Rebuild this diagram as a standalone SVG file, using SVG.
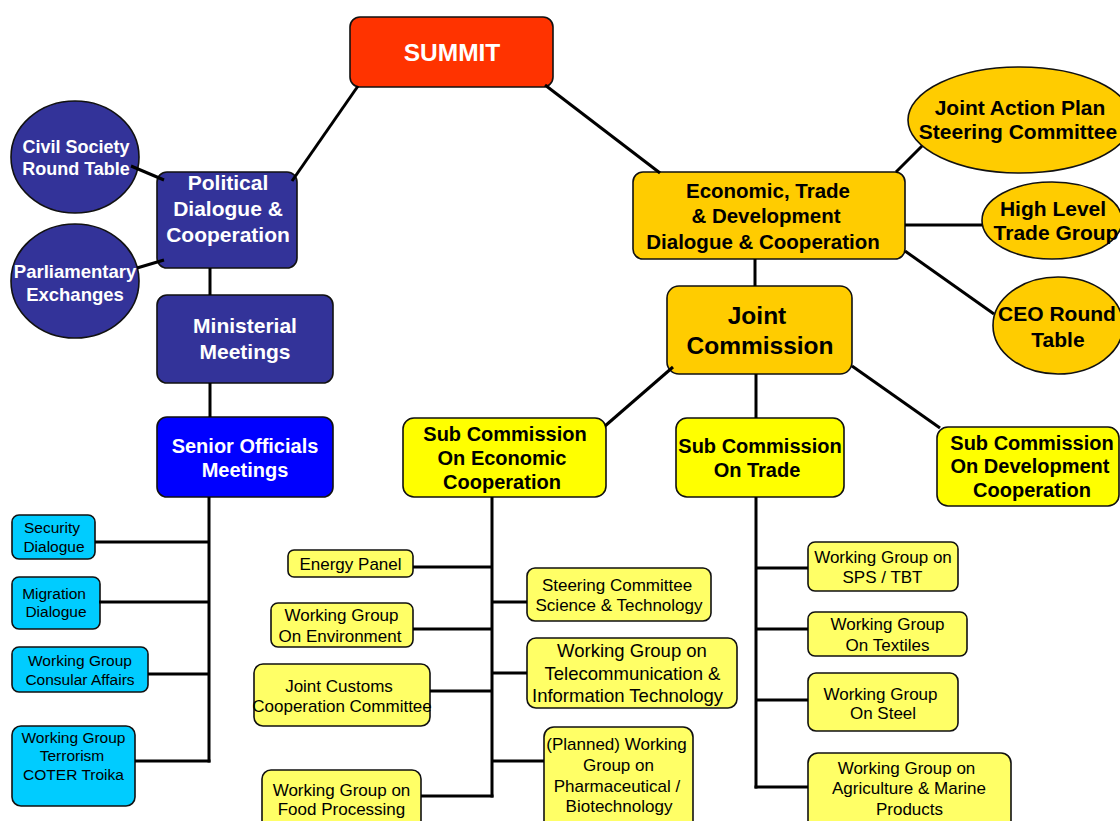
<svg xmlns="http://www.w3.org/2000/svg" width="1120" height="821" viewBox="0 0 1120 821">
<style>
  .n { stroke: #111; stroke-width: 1.6; }
  .red { fill: #FF3300; }
  .navy { fill: #333399; }
  .blue { fill: #0000FF; }
  .gold { fill: #FFCC00; }
  .yel { fill: #FFFF00; }
  .ly { fill: #FFFF66; }
  .cy { fill: #00CCFF; }
  text { font-family: "Liberation Sans", Arial, sans-serif; text-anchor: middle; }
  .tw { fill: #fff; font-weight: bold; }
  .tb { fill: #000; font-weight: bold; }
  .tr { fill: #000; }
  .c line, .c path { stroke: #000; stroke-width: 3; fill: none; }
</style>
<rect width="1120" height="821" fill="#fff"/>

<g id="summit">
  <rect class="n red" x="350" y="17" width="203" height="70" rx="10"/>
  <text class="tw" x="452" y="61" font-size="24.5">SUMMIT</text>
</g>
<g id="political">
  <rect class="n navy" x="157" y="172" width="140" height="96" rx="10"/>
  <text class="tw" font-size="21"><tspan x="228" y="190">Political</tspan><tspan x="228" y="216">Dialogue &amp;</tspan><tspan x="228" y="242">Cooperation</tspan></text>
</g>
<g id="civil-society">
  <ellipse class="n navy" cx="75" cy="157" rx="64" ry="56"/>
  <text class="tw" font-size="18"><tspan x="76" y="153">Civil Society</tspan><tspan x="76" y="175">Round Table</tspan></text>
</g>
<g id="parliamentary">
  <ellipse class="n navy" cx="75" cy="281" rx="64" ry="57"/>
  <text class="tw" font-size="18.5"><tspan x="75" y="278">Parliamentary</tspan><tspan x="75" y="301">Exchanges</tspan></text>
</g>
<g id="ministerial">
  <rect class="n navy" x="157" y="295" width="176" height="88" rx="10"/>
  <text class="tw" font-size="21"><tspan x="245" y="333">Ministerial</tspan><tspan x="245" y="359">Meetings</tspan></text>
</g>
<g id="senior-officials">
  <rect class="n blue" x="157" y="417" width="176" height="80" rx="10"/>
  <text class="tw" font-size="20"><tspan x="245" y="453">Senior Officials</tspan><tspan x="245" y="477">Meetings</tspan></text>
</g>
<g id="security-dialogue">
  <rect class="n cy" x="12" y="515" width="83" height="44" rx="7"/>
  <text class="tr" font-size="15.5"><tspan x="52" y="533">Security</tspan><tspan x="54" y="552">Dialogue</tspan></text>
</g>
<g id="migration-dialogue">
  <rect class="n cy" x="12" y="577" width="88" height="52" rx="7"/>
  <text class="tr" font-size="15.5"><tspan x="54" y="599">Migration</tspan><tspan x="56" y="617">Dialogue</tspan></text>
</g>
<g id="wg-consular">
  <rect class="n cy" x="12" y="647" width="136" height="45" rx="7"/>
  <text class="tr" font-size="15.5"><tspan x="80" y="666">Working Group</tspan><tspan x="80" y="685">Consular Affairs</tspan></text>
</g>
<g id="wg-terrorism">
  <rect class="n cy" x="12" y="726" width="123" height="80" rx="9"/>
  <text class="tr" font-size="15.5"><tspan x="73.5" y="743">Working Group</tspan><tspan x="72" y="761">Terrorism</tspan><tspan x="73.5" y="780">COTER Troika</tspan></text>
</g>

<g id="economic-trade">
  <rect class="n gold" x="633" y="172" width="272" height="87" rx="10"/>
  <text class="tb" font-size="20.5"><tspan x="768" y="198">Economic, Trade</tspan><tspan x="766" y="223">&amp; Development</tspan><tspan x="763" y="249">Dialogue &amp; Cooperation</tspan></text>
</g>
<g id="joint-action-plan">
  <ellipse class="n gold" cx="1020" cy="120" rx="112" ry="53"/>
  <text class="tb" font-size="21"><tspan x="1020" y="115">Joint Action Plan</tspan><tspan x="1018" y="139">Steering Committee</tspan></text>
</g>
<g id="high-level-trade">
  <ellipse class="n gold" cx="1052" cy="220.5" rx="70" ry="38.5"/>
  <text class="tb" font-size="21"><tspan x="1053" y="216">High Level</tspan><tspan x="1056" y="240">Trade Group</tspan></text>
</g>
<g id="ceo-round-table">
  <ellipse class="n gold" cx="1058" cy="325.5" rx="65" ry="48.5"/>
  <text class="tb" font-size="21"><tspan x="1057" y="321">CEO Round</tspan><tspan x="1058" y="347">Table</tspan></text>
</g>
<g id="joint-commission">
  <rect class="n gold" x="667" y="286" width="185" height="88" rx="12"/>
  <text class="tb" font-size="24.5"><tspan x="757" y="324">Joint</tspan><tspan x="760" y="354">Commission</tspan></text>
</g>

<g id="sub-economic">
  <rect class="n yel" x="403" y="418" width="203" height="79" rx="11"/>
  <text class="tb" font-size="20"><tspan x="505" y="441">Sub Commission</tspan><tspan x="502" y="465">On Economic</tspan><tspan x="502" y="489">Cooperation</tspan></text>
</g>
<g id="sub-trade">
  <rect class="n yel" x="676" y="418" width="168" height="79" rx="11"/>
  <text class="tb" font-size="20"><tspan x="760" y="453">Sub Commission</tspan><tspan x="757" y="477">On Trade</tspan></text>
</g>
<g id="sub-development">
  <rect class="n yel" x="937" y="427" width="182" height="79" rx="11"/>
  <text class="tb" font-size="20"><tspan x="1032" y="450">Sub Commission</tspan><tspan x="1030" y="473">On Development</tspan><tspan x="1032" y="497">Cooperation</tspan></text>
</g>

<g id="energy-panel">
  <rect class="n ly" x="288" y="550" width="125" height="27" rx="6"/>
  <text class="tr" font-size="17" x="350.5" y="570">Energy Panel</text>
</g>
<g id="wg-environment">
  <rect class="n ly" x="271" y="603" width="142" height="44" rx="7"/>
  <text class="tr" font-size="17"><tspan x="341.5" y="621">Working Group</tspan><tspan x="340" y="642">On Environment</tspan></text>
</g>
<g id="joint-customs">
  <rect class="n ly" x="254" y="664" width="176" height="62" rx="9"/>
  <text class="tr" font-size="17"><tspan x="339" y="692">Joint Customs</tspan><tspan x="342" y="712">Cooperation Committee</tspan></text>
</g>
<g id="wg-food">
  <rect class="n ly" x="262" y="770" width="159" height="60" rx="9"/>
  <text class="tr" font-size="17"><tspan x="341.5" y="796">Working Group on</tspan><tspan x="341.5" y="815">Food Processing</tspan></text>
</g>
<g id="steering-science">
  <rect class="n ly" x="527" y="568" width="184" height="53" rx="8"/>
  <text class="tr" font-size="17"><tspan x="617" y="591">Steering Committee</tspan><tspan x="619" y="611">Science &amp; Technology</tspan></text>
</g>
<g id="wg-telecom">
  <rect class="n ly" x="527" y="638" width="210" height="70" rx="9"/>
  <text class="tr" font-size="18.5"><tspan x="632" y="657">Working Group on</tspan><tspan x="632.5" y="680">Telecommunication &amp;</tspan><tspan x="627.5" y="702">Information Technology</tspan></text>
</g>
<g id="wg-pharma">
  <rect class="n ly" x="544" y="727" width="149" height="105" rx="10"/>
  <text class="tr" font-size="17"><tspan x="616.5" y="750">(Planned) Working</tspan><tspan x="618.5" y="771">Group on</tspan><tspan x="617" y="792">Pharmaceutical /</tspan><tspan x="619" y="812">Biotechnology</tspan></text>
</g>
<g id="wg-sps-tbt">
  <rect class="n ly" x="808" y="542" width="150" height="49" rx="7"/>
  <text class="tr" font-size="17"><tspan x="883" y="563">Working Group on</tspan><tspan x="882.5" y="583">SPS / TBT</tspan></text>
</g>
<g id="wg-textiles">
  <rect class="n ly" x="808" y="612" width="159" height="44" rx="7"/>
  <text class="tr" font-size="17"><tspan x="887.5" y="630">Working Group</tspan><tspan x="887.5" y="651">On Textiles</tspan></text>
</g>
<g id="wg-steel">
  <rect class="n ly" x="808" y="673" width="150" height="58" rx="8"/>
  <text class="tr" font-size="17"><tspan x="880.5" y="700">Working Group</tspan><tspan x="883" y="719">On Steel</tspan></text>
</g>
<g id="wg-agriculture">
  <rect class="n ly" x="808" y="753" width="203" height="80" rx="10"/>
  <text class="tr" font-size="17"><tspan x="906.5" y="774">Working Group on</tspan><tspan x="909" y="794">Agriculture &amp; Marine</tspan><tspan x="909.5" y="815">Products</tspan></text>
</g>

<g id="connectors" class="c">
  <line x1="358" y1="86" x2="292" y2="181"/>
  <line x1="545" y1="85" x2="660" y2="173"/>
  <line x1="131" y1="166" x2="164" y2="180"/>
  <line x1="137" y1="268" x2="164" y2="260"/>
  <line x1="210" y1="268" x2="210" y2="295"/>
  <line x1="210" y1="383" x2="210" y2="417"/>
  <line x1="209" y1="497" x2="209" y2="762.5"/>
  <line x1="95" y1="542" x2="209" y2="542"/>
  <line x1="99" y1="602" x2="209" y2="602"/>
  <line x1="148" y1="674" x2="209" y2="674"/>
  <line x1="135" y1="761" x2="210.5" y2="761"/>
  <line x1="896" y1="172" x2="922" y2="146"/>
  <line x1="905" y1="225" x2="982" y2="225"/>
  <line x1="905" y1="251" x2="994" y2="314"/>
  <line x1="755" y1="259" x2="755" y2="286"/>
  <line x1="673" y1="367" x2="605" y2="426"/>
  <line x1="852" y1="366" x2="940" y2="428"/>
  <line x1="756" y1="374" x2="756" y2="418"/>
  <line x1="492" y1="497" x2="492" y2="797.5"/>
  <line x1="413" y1="567" x2="492" y2="567"/>
  <line x1="413" y1="629" x2="492" y2="629"/>
  <line x1="430" y1="691" x2="492" y2="691"/>
  <line x1="421" y1="796" x2="493.5" y2="796"/>
  <line x1="492" y1="602" x2="527" y2="602"/>
  <line x1="492" y1="673" x2="527" y2="673"/>
  <line x1="492" y1="761" x2="544" y2="761"/>
  <line x1="756" y1="497" x2="756" y2="788.5"/>
  <line x1="756" y1="568" x2="808" y2="568"/>
  <line x1="756" y1="629" x2="808" y2="629"/>
  <line x1="756" y1="700" x2="808" y2="700"/>
  <line x1="754.5" y1="787" x2="808" y2="787"/>
</g>
</svg>
